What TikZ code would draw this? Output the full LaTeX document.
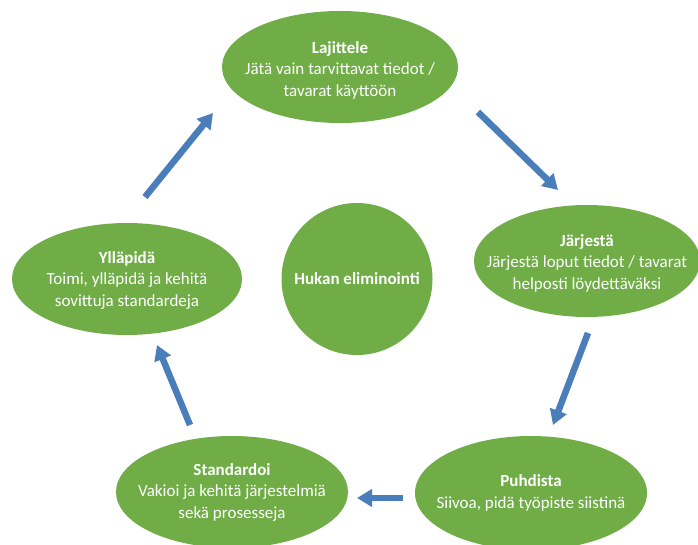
\documentclass[tikz,border=0pt]{standalone}
\usepackage{fontspec}
\setmainfont{Carlito}
\usetikzlibrary{shapes.geometric,arrows.meta}
\definecolor{lgreen}{HTML}{70AD47}
\definecolor{arrblue}{HTML}{4A7EBB}
\tikzset{
  oval/.style={ellipse, fill=lgreen, draw=none, inner sep=0pt},
  ovaltext/.style={text=white, align=center, inner sep=0pt,
    font=\fontsize{17}{21.5}\selectfont},
  flow/.style={draw=arrblue, line width=6.5pt, -{Triangle[length=15pt,width=17pt]}, shorten >=0pt}
}
\begin{document}
\begin{tikzpicture}[x=1pt,y=-1pt]
\useasboundingbox (0,0) rectangle (698,545);
\node[oval, minimum width=236pt, minimum height=112pt] (laj) at (340,67) {};
\node[ovaltext] (lajt) at ([yshift=-3pt]laj.center)
  {\textbf{Lajittele}\\Jätä vain tarvittavat tiedot /\\tavarat käyttöön};
\node[oval, minimum width=226pt, minimum height=112pt] (jar) at (587,261) {};
\node[ovaltext] (jart) at ([yshift=-2pt]jar.center)
  {\textbf{Järjestä}\\Järjestä loput tiedot / tavarat\\helposti löydettäväksi};
\node[oval, minimum width=232pt, minimum height=114pt] (puh) at (531,493) {};
\node[ovaltext] (puht) at (puh.center)
  {\textbf{Puhdista}\\Siivoa, pidä työpiste siistinä};
\node[oval, minimum width=232pt, minimum height=112pt] (sta) at (232,492) {};
\node[ovaltext] (stat) at (sta.center)
  {\textbf{Standardoi}\\Vakioi ja kehitä järjestelmiä\\sekä prosesseja};
\node[oval, minimum width=230pt, minimum height=112pt] (yll) at (127,279) {};
\node[ovaltext] (yllt) at ([yshift=-1pt]yll.center)
  {\textbf{Ylläpidä}\\Toimi, ylläpidä ja kehitä\\sovittuja standardeja};
\node[oval, minimum width=151pt, minimum height=152pt] (huk) at (357,279) {};
\node[ovaltext] (hukt) at (huk.center) {\textbf{Hukan eliminointi}};
\coordinate (a1s) at (478,112); \coordinate (a1e) at (558,190);
\coordinate (a2s) at (588,333); \coordinate (a2e) at (553,425);
\coordinate (a3s) at (403,498); \coordinate (a3e) at (357,498);
\coordinate (a4s) at (190,425); \coordinate (a4e) at (157,345);
\coordinate (a5s) at (145,197); \coordinate (a5e) at (213,113);
\draw[flow] (a1s) -- (a1e);
\draw[flow] (a2s) -- (a2e);
\draw[flow] (a3s) -- (a3e);
\draw[flow] (a4s) -- (a4e);
\draw[flow] (a5s) -- (a5e);
\end{tikzpicture}
\end{document}
